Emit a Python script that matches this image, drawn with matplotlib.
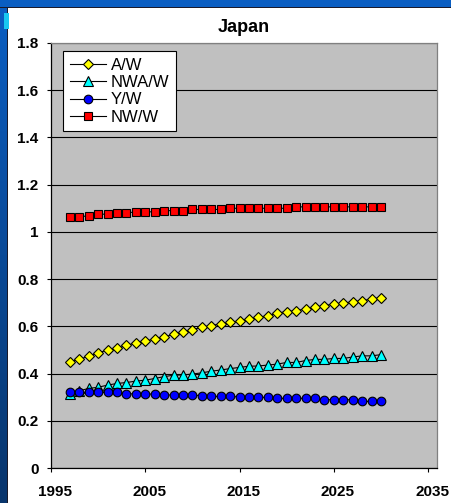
import numpy as np
import matplotlib.pyplot as plt
import matplotlib.transforms as mtransforms
from matplotlib.patches import Rectangle
from matplotlib.colors import LinearSegmentedColormap

# --- data ---
years = list(range(1997, 2031))

a_w = [0.450, 0.460, 0.474, 0.488, 0.499, 0.507, 0.519, 0.530, 0.537, 0.547,
       0.555, 0.566, 0.575, 0.586, 0.596, 0.603, 0.611, 0.617, 0.623, 0.631,
       0.638, 0.645, 0.656, 0.662, 0.666, 0.674, 0.681, 0.688, 0.694, 0.698,
       0.704, 0.708, 0.716, 0.721]
nwa_w = [0.313, 0.327, 0.337, 0.342, 0.351, 0.358, 0.362, 0.368, 0.372, 0.379,
         0.387, 0.393, 0.394, 0.398, 0.403, 0.410, 0.415, 0.421, 0.426, 0.431,
         0.432, 0.436, 0.440, 0.447, 0.447, 0.455, 0.460, 0.460, 0.464, 0.464,
         0.470, 0.475, 0.475, 0.480]
y_w = [0.323, 0.320, 0.320, 0.320, 0.320, 0.320, 0.314, 0.314, 0.313, 0.313,
       0.309, 0.309, 0.309, 0.309, 0.306, 0.303, 0.303, 0.306, 0.299, 0.299,
       0.299, 0.299, 0.295, 0.295, 0.295, 0.295, 0.295, 0.289, 0.289, 0.289,
       0.289, 0.282, 0.282, 0.282]
nw_w = [1.063, 1.063, 1.069, 1.075, 1.075, 1.080, 1.080, 1.085, 1.085, 1.085,
        1.090, 1.090, 1.090, 1.095, 1.095, 1.095, 1.095, 1.100, 1.100, 1.100,
        1.100, 1.100, 1.100, 1.100, 1.106, 1.106, 1.106, 1.106, 1.106, 1.106,
        1.106, 1.106, 1.106, 1.106]

x_ticks = [1995, 2005, 2015, 2025, 2035]
y_ticks = [0, 0.2, 0.4, 0.6, 0.8, 1.0, 1.2, 1.4, 1.6, 1.8]
y_labels = ['0', '0.2', '0.4', '0.6', '0.8', '1', '1.2', '1.4', '1.6', '1.8']

plt.rcParams['font.family'] = ['Liberation Sans', 'DejaVu Sans']

W, H = 452, 503
fig = plt.figure(figsize=(W / 100, H / 100), dpi=100)
fig.patch.set_facecolor('white')

# slide frame: blue strip on top, gradient strip on the left
fig.patches.append(Rectangle((0, 1 - 7 / H), 1, 7 / H, transform=fig.transFigure,
                             facecolor='#0A5EC2', edgecolor='none', zorder=0))
fig.patches.append(Rectangle((0, 1 - 8 / H), 1, 1 / H, transform=fig.transFigure,
                             facecolor='#1A1A2A', edgecolor='none', zorder=0))
strip = fig.add_axes([0, 0, 7 / W, 1 - 7 / H])
grad = np.linspace(0, 1, 256).reshape(-1, 1)
cmap = LinearSegmentedColormap.from_list('frame', ['#0A5EC2', '#0A4A98', '#08356C'])
strip.imshow(grad, aspect='auto', cmap=cmap, extent=[0, 1, 0, 1], origin='upper')
strip.axis('off')
fig.patches.append(Rectangle((7 / W, 0), 1 / W, 1 - 7 / H, transform=fig.transFigure,
                             facecolor='#1A1A2A', edgecolor='none', zorder=5))
fig.patches.append(Rectangle((4 / W, 1 - 29 / H), 5 / W, 16 / H, transform=fig.transFigure,
                             facecolor='#19C8F0', edgecolor='none', zorder=6))

ax = fig.add_axes([51 / W, 1 - 468 / H, 386.5 / W, 425 / H])
ax.set_facecolor('#C0C0C0')

ax.plot(years, a_w, color='black', lw=0.8, marker='D', ms=5.5, mfc='#FFFF00',
        mec='black', mew=0.8, label='A/W', zorder=3)
ax.plot(years, nwa_w, color='black', lw=0.8, marker='^', ms=6.5, mfc='#00FFFF',
        mec='black', mew=0.8, label='NWA/W', zorder=3)
ax.plot(years, y_w, color='black', lw=0.8, marker='o', ms=6.2, mfc='#0000FF',
        mec='black', mew=0.8, label='Y/W', zorder=3)
ax.plot(years, nw_w, color='black', lw=0.8, marker='s', ms=6.3, mfc='#FF0000',
        mec='black', mew=0.8, label='NW/W', zorder=3)

ax.set_xlim(1995, 2036)
ax.set_ylim(0, 1.8)
ax.set_xticks(x_ticks)
ax.set_xticklabels([str(v) for v in x_ticks], fontsize=11, fontweight='bold')
ax.set_yticks(y_ticks)
ax.set_yticklabels(y_labels, fontsize=11, fontweight='bold')
ax.tick_params(axis='x', direction='out', length=3, width=0.8, pad=9)
ax.tick_params(axis='y', direction='out', length=3, width=0.8, pad=6)
ax.grid(axis='y', color='black', lw=0.8)
ax.set_axisbelow(True)

# x labels sit a little to the right of their ticks in the original
shift = mtransforms.ScaledTranslation(4 / 100, 0, fig.dpi_scale_trans)
for lbl in ax.get_xticklabels():
    lbl.set_transform(lbl.get_transform() + shift)

ax.spines['left'].set_color('black')
ax.spines['bottom'].set_color('black')
ax.spines['top'].set_color('#808080')
ax.spines['right'].set_color('#808080')
for s in ax.spines.values():
    s.set_linewidth(0.9)

ax.set_title('Japan', fontsize=13, fontweight='bold', pad=8)

leg = ax.legend(loc='upper left', bbox_to_anchor=(12 / 386.5, 1 - 8 / 425),
                fontsize=12, frameon=True, fancybox=False, edgecolor='black',
                framealpha=1, borderpad=0.4, labelspacing=0.14,
                handlelength=2.2, handletextpad=0.25, borderaxespad=0)
leg.get_frame().set_linewidth(0.8)

fig.savefig('out.png', dpi=100)
